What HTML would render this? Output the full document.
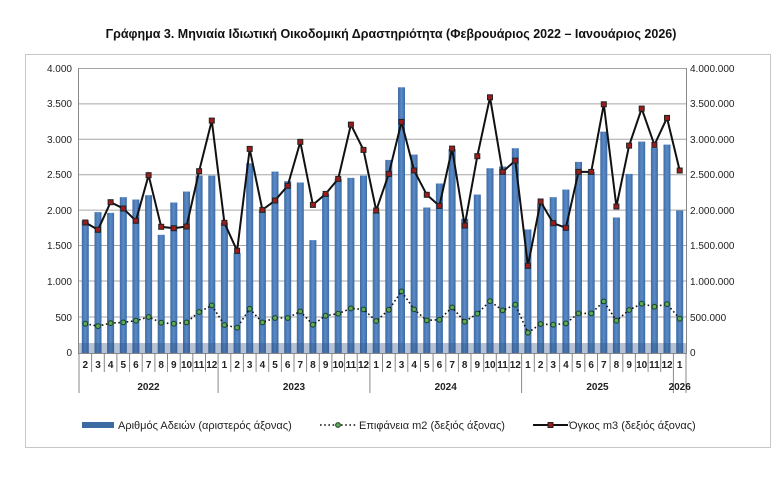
<!DOCTYPE html>
<html><head><meta charset="utf-8"><style>
body{margin:0;background:#fff;}
svg{display:block;font-family:"Liberation Sans",sans-serif;}
</style></head><body>
<svg width="782" height="480" viewBox="0 0 782 480" xmlns="http://www.w3.org/2000/svg">
<defs>
<linearGradient id="bg" x1="0" y1="0" x2="1" y2="0"><stop offset="0" stop-color="#3d6aa3"/><stop offset="0.5" stop-color="#5a8bc8"/><stop offset="1" stop-color="#3d6aa3"/></linearGradient>
<marker id="sq" markerUnits="userSpaceOnUse" markerWidth="8" markerHeight="8" refX="4" refY="4"><rect x="1.5" y="1.5" width="5" height="5" fill="#9b1c1c" stroke="#222" stroke-width="1"/></marker>
<marker id="ci" markerUnits="userSpaceOnUse" markerWidth="8" markerHeight="8" refX="4" refY="4"><circle cx="4" cy="4" r="2.4" fill="#5caa5c" stroke="#1d3d1d" stroke-width="1"/></marker>
</defs>
<rect x="25.5" y="54.5" width="745" height="393" fill="#fff" stroke="#c8c8c8"/>
<text x="391" y="38" text-anchor="middle" font-size="12.5" font-weight="bold" fill="#111">Γράφημα 3. Μηνιαία Ιδιωτική Οικοδομική Δραστηριότητα (Φεβρουάριος 2022 – Ιανουάριος 2026)</text>
<g stroke="#a6a6a6" stroke-width="1">
<line x1="79" x2="686" y1="68.5" y2="68.5"/><line x1="79" x2="686" y1="103.9" y2="103.9"/><line x1="79" x2="686" y1="139.3" y2="139.3"/><line x1="79" x2="686" y1="174.7" y2="174.7"/><line x1="79" x2="686" y1="210.1" y2="210.1"/><line x1="79" x2="686" y1="245.5" y2="245.5"/><line x1="79" x2="686" y1="281" y2="281"/><line x1="79" x2="686" y1="317" y2="317"/>
</g>
<g font-size="10" fill="#222" text-anchor="end">
<text x="72" y="72">4.000</text><text x="72" y="107">3.500</text><text x="72" y="143">3.000</text><text x="72" y="178">2.500</text><text x="72" y="214">2.000</text><text x="72" y="249">1.500</text><text x="72" y="285">1.000</text><text x="72" y="321">500</text><text x="72" y="356">0</text>
</g>
<g font-size="10" fill="#222">
<text x="690" y="72">4.000.000</text><text x="690" y="107">3.500.000</text><text x="690" y="143">3.000.000</text><text x="690" y="178">2.500.000</text><text x="690" y="214">2.000.000</text><text x="690" y="249">1.500.000</text><text x="690" y="285">1.000.000</text><text x="690" y="321">500.000</text><text x="690" y="356">0</text>
</g>
<g transform="translate(0,353) scale(1,-0.07125)" fill="url(#bg)">
<rect x="81.8" y="0" width="7" height="1860"/><rect x="94.5" y="0" width="7" height="1977"/><rect x="107.1" y="0" width="7" height="1967"/><rect x="119.8" y="0" width="7" height="2187"/><rect x="132.4" y="0" width="7" height="2154"/><rect x="145.1" y="0" width="7" height="2215"/><rect x="157.7" y="0" width="7" height="1659"/><rect x="170.3" y="0" width="7" height="2112"/><rect x="183" y="0" width="7" height="2266"/><rect x="195.6" y="0" width="7" height="2490"/><rect x="208.3" y="0" width="7" height="2490"/><rect x="220.9" y="0" width="7" height="1830"/><rect x="233.6" y="0" width="7" height="1402"/><rect x="246.2" y="0" width="7" height="2663"/><rect x="258.9" y="0" width="7" height="2000"/><rect x="271.5" y="0" width="7" height="2546"/><rect x="284.2" y="0" width="7" height="2411"/><rect x="296.8" y="0" width="7" height="2393"/><rect x="309.4" y="0" width="7" height="1584"/><rect x="322.1" y="0" width="7" height="2233"/><rect x="334.7" y="0" width="7" height="2444"/><rect x="347.4" y="0" width="7" height="2458"/><rect x="360" y="0" width="7" height="2490"/><rect x="372.7" y="0" width="7" height="1977"/><rect x="385.3" y="0" width="7" height="2710"/><rect x="398" y="0" width="7" height="3729"/><rect x="410.6" y="0" width="7" height="2785"/><rect x="423.3" y="0" width="7" height="2042"/><rect x="435.9" y="0" width="7" height="2379"/><rect x="448.6" y="0" width="7" height="2864"/><rect x="461.2" y="0" width="7" height="1883"/><rect x="473.8" y="0" width="7" height="2224"/><rect x="486.5" y="0" width="7" height="2593"/><rect x="499.1" y="0" width="7" height="2617"/><rect x="511.8" y="0" width="7" height="2874"/><rect x="524.4" y="0" width="7" height="1734"/><rect x="537.1" y="0" width="7" height="2093"/><rect x="549.7" y="0" width="7" height="2187"/><rect x="562.4" y="0" width="7" height="2294"/><rect x="575" y="0" width="7" height="2682"/><rect x="587.7" y="0" width="7" height="2537"/><rect x="600.3" y="0" width="7" height="3107"/><rect x="612.9" y="0" width="7" height="1902"/><rect x="625.6" y="0" width="7" height="2514"/><rect x="638.2" y="0" width="7" height="2967"/><rect x="650.9" y="0" width="7" height="2879"/><rect x="663.5" y="0" width="7" height="2925"/><rect x="676.2" y="0" width="7" height="2000"/>
</g>
<rect x="79" y="343" width="607" height="10" fill="#2d5182" opacity="0.35"/>
<polyline fill="none" stroke="#111" stroke-width="1.6" stroke-dasharray="1.6,2.6" marker-start="url(#ci)" marker-mid="url(#ci)" marker-end="url(#ci)" points="85.3,323.7 98,326.1 110.6,323.1 123.3,322.4 135.9,320.7 148.6,317 161.2,322.7 173.8,323.7 186.5,322.4 199.1,312 211.8,305.4 224.4,325 237.1,327.7 249.7,308.8 262.4,322.4 275,318 287.7,318 300.3,311.4 312.9,324.7 325.6,315.7 338.2,313.7 350.9,308.4 363.5,309.4 376.2,321 388.8,309.8 401.5,291.4 414.1,309.4 426.8,320.4 439.4,319.7 452.1,307.4 464.7,321.7 477.3,313.7 490,301.1 502.6,310.4 515.3,304.7 527.9,332.7 540.6,324 553.2,324.7 565.9,323.4 578.5,313.4 591.2,313.4 603.8,301.4 616.4,320.7 629.1,310 641.7,303.7 654.4,306.7 667,304.1 679.7,318.7"/>
<polyline fill="none" stroke="#111" stroke-width="2" marker-start="url(#sq)" marker-mid="url(#sq)" marker-end="url(#sq)" points="85.3,222.5 98,229.8 110.6,202.2 123.3,208.5 135.9,220.8 148.6,175.2 161.2,226.8 173.8,228.2 186.5,226.5 199.1,171.2 211.8,120.6 224.4,222.8 237.1,250.8 249.7,148.9 262.4,209.9 275,200.5 287.7,185.8 300.3,141.9 312.9,204.9 325.6,193.9 338.2,178.9 350.9,124.6 363.5,149.9 376.2,210.5 388.8,173.9 401.5,121.9 414.1,170.5 426.8,194.8 439.4,205.9 452.1,148.6 464.7,225.5 477.3,156.2 490,97.3 502.6,171.9 515.3,160.6 527.9,265.8 540.6,201.5 553.2,223.2 565.9,227.8 578.5,171.9 591.2,171.9 603.8,104.3 616.4,206.5 629.1,145.6 641.7,108.6 654.4,144.9 667,117.9 679.7,170.5"/>
<g stroke="#888" stroke-width="1">
<line x1="78.5" y1="68" x2="78.5" y2="353"/><line x1="686.5" y1="68" x2="686.5" y2="353"/>
<line x1="78" y1="353.5" x2="687" y2="353.5"/>
<line x1="79" y1="353" x2="79" y2="393"/><line x1="218.1" y1="353" x2="218.1" y2="393"/><line x1="369.9" y1="353" x2="369.9" y2="393"/><line x1="521.6" y1="353" x2="521.6" y2="393"/><line x1="673.4" y1="353" x2="673.4" y2="393"/><line x1="686" y1="353" x2="686" y2="393"/>
<path d="M91.6 353v19M104.3 353v19M116.9 353v19M129.6 353v19M142.2 353v19M154.9 353v19M167.5 353v19M180.2 353v19M192.8 353v19M205.5 353v19M230.8 353v19M243.4 353v19M256.1 353v19M268.7 353v19M281.4 353v19M294 353v19M306.6 353v19M319.3 353v19M331.9 353v19M344.6 353v19M357.2 353v19M382.5 353v19M395.2 353v19M407.8 353v19M420.5 353v19M433.1 353v19M445.8 353v19M458.4 353v19M471 353v19M483.7 353v19M496.3 353v19M509 353v19M534.3 353v19M546.9 353v19M559.6 353v19M572.2 353v19M584.8 353v19M597.5 353v19M610.1 353v19M622.8 353v19M635.4 353v19M648.1 353v19M660.7 353v19"/>
</g>
<g font-size="10" font-weight="bold" fill="#222" text-anchor="middle">
<text x="85.3" y="368">2</text><text x="98" y="368">3</text><text x="110.6" y="368">4</text><text x="123.3" y="368">5</text><text x="135.9" y="368">6</text><text x="148.6" y="368">7</text><text x="161.2" y="368">8</text><text x="173.8" y="368">9</text><text x="186.5" y="368">10</text><text x="199.1" y="368">11</text><text x="211.8" y="368">12</text>
<text x="224.4" y="368">1</text><text x="237.1" y="368">2</text><text x="249.7" y="368">3</text><text x="262.4" y="368">4</text><text x="275" y="368">5</text><text x="287.7" y="368">6</text><text x="300.3" y="368">7</text><text x="312.9" y="368">8</text><text x="325.6" y="368">9</text><text x="338.2" y="368">10</text><text x="350.9" y="368">11</text><text x="363.5" y="368">12</text>
<text x="376.2" y="368">1</text><text x="388.8" y="368">2</text><text x="401.5" y="368">3</text><text x="414.1" y="368">4</text><text x="426.8" y="368">5</text><text x="439.4" y="368">6</text><text x="452.1" y="368">7</text><text x="464.7" y="368">8</text><text x="477.3" y="368">9</text><text x="490" y="368">10</text><text x="502.6" y="368">11</text><text x="515.3" y="368">12</text>
<text x="527.9" y="368">1</text><text x="540.6" y="368">2</text><text x="553.2" y="368">3</text><text x="565.9" y="368">4</text><text x="578.5" y="368">5</text><text x="591.2" y="368">6</text><text x="603.8" y="368">7</text><text x="616.4" y="368">8</text><text x="629.1" y="368">9</text><text x="641.7" y="368">10</text><text x="654.4" y="368">11</text><text x="667" y="368">12</text><text x="679.7" y="368">1</text>
<text x="148.5" y="390">2022</text><text x="294" y="390">2023</text><text x="445.7" y="390">2024</text><text x="597.5" y="390">2025</text><text x="679.7" y="390">2026</text>
</g>
<rect x="82" y="422" width="32" height="6" fill="#3d6aa3"/>
<text x="118" y="429" font-size="11" fill="#222">Αριθμός Αδειών (αριστερός άξονας)</text>
<line x1="320" y1="425" x2="357" y2="425" stroke="#111" stroke-width="1.6" stroke-dasharray="1.6,2.6"/>
<circle cx="338" cy="425" r="2.4" fill="#5caa5c" stroke="#1d3d1d"/>
<text x="359" y="429" font-size="11" fill="#222">Επιφάνεια m2 (δεξιός άξονας)</text>
<line x1="533" y1="425" x2="568" y2="425" stroke="#111" stroke-width="2"/>
<rect x="548" y="422.5" width="5" height="5" fill="#9b1c1c" stroke="#222"/>
<text x="569" y="429" font-size="11" fill="#222">Όγκος m3 (δεξιός άξονας)</text>
</svg>
</body></html>
